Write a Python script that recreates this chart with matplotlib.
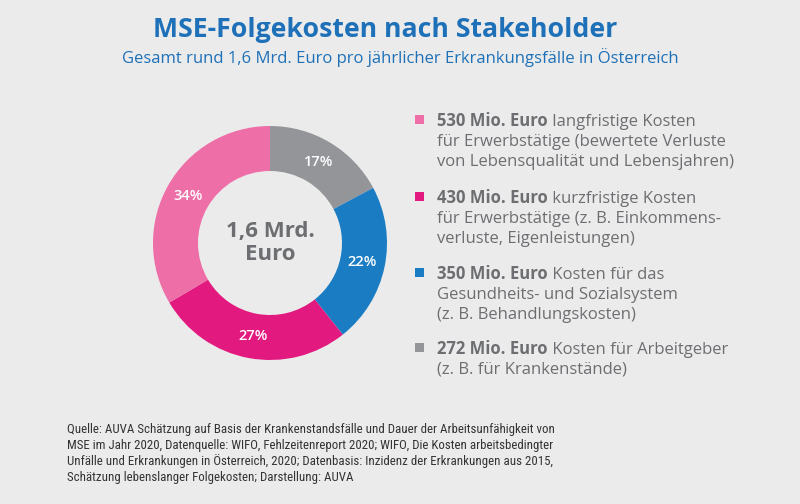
import matplotlib.pyplot as plt
import numpy as np
from matplotlib.patches import Rectangle

# data
values = [272, 350, 430, 530]          # Mio. Euro, clockwise from top
pct_labels = ['17%', '22%', '27%', '34%']
colors = ['#939598', '#1A7DC4', '#E2197F', '#EE6EA8']

legend_colors = ['#EE6EA8', '#E2197F', '#1A7DC4', '#939598']
legend_bold = ['530 Mio. Euro', '430 Mio. Euro', '350 Mio. Euro', '272 Mio. Euro']
legend_lines = [
    [' langfristige Kosten', 'für Erwerbstätige (bewertete Verluste', 'von Lebensqualität und Lebensjahren)'],
    [' kurzfristige Kosten', 'für Erwerbstätige (z. B. Einkommens-', 'verluste, Eigenleistungen)'],
    [' Kosten für das', 'Gesundheits- und Sozialsystem', '(z. B. Behandlungskosten)'],
    [' Kosten für Arbeitgeber', '(z. B. für Krankenstände)'],
]

title = 'MSE-Folgekosten nach Stakeholder'
subtitle = 'Gesamt rund 1,6 Mrd. Euro pro jährlicher Erkrankungsfälle in Österreich'
center_text = '1,6 Mrd.\nEuro'
footer = ['Quelle: AUVA Schätzung auf Basis der Krankenstandsfälle und Dauer der Arbeitsunfähigkeit von',
          'MSE im Jahr 2020, Datenquelle: WIFO, Fehlzeitenreport 2020; WIFO, Die Kosten arbeitsbedingter',
          'Unfälle und Erkrankungen in Österreich, 2020; Datenbasis: Inzidenz der Erkrankungen aus 2015,',
          'Schätzung lebenslanger Folgekosten; Darstellung: AUVA']

bgcol = '#EBEBEB'
txtcol = '#6D6E71'
blue = '#1E71B8'
plt.rcParams['font.family'] = ['Open Sans', 'DejaVu Sans']

W, H = 800, 504
fig = plt.figure(figsize=(W / 100, H / 100), dpi=100, facecolor=bgcol)

# full-figure axes in pixel coords for texts
bg = fig.add_axes([0, 0, 1, 1])
bg.set_xlim(0, W)
bg.set_ylim(H, 0)
bg.axis('off')

bg.text(385, 30, title, ha='center', va='center', fontsize=19.2, fontweight='bold', color=blue)
bg.text(400, 58, subtitle, ha='center', va='center', fontsize=12, color=blue)

# donut
cx, cy, R, r = 270, 243, 117, 72
pad = 130
ax = fig.add_axes([(cx - pad) / W, 1 - (cy + pad) / H, 2 * pad / W, 2 * pad / H])
wedges, _ = ax.pie(values, colors=colors, startangle=90, counterclock=False,
                   radius=1, wedgeprops=dict(width=(R - r) / R, linewidth=0))
ax.set_xlim(-pad / R, pad / R)
ax.set_ylim(-pad / R, pad / R)
ax.axis('off')
mid = (R + r) / 2 / R
cum = np.cumsum([0] + values) / sum(values)
for i, lab in enumerate(pct_labels):
    ang = np.deg2rad(90 - 360 * (cum[i] + cum[i + 1]) / 2)
    ax.text(mid * np.cos(ang), mid * np.sin(ang), lab, ha='center', va='center',
            fontsize=10.5, fontweight='semibold', color='white')
ax.text(0, 0, center_text, ha='center', va='center', fontsize=16, fontweight='bold',
        color=txtcol, linespacing=1.15)

# legend
block_y = [120, 197, 273, 348]
for col, bold, lines, y0 in zip(legend_colors, legend_bold, legend_lines, block_y):
    bg.add_patch(Rectangle((415, y0 - 5), 9, 9, color=col, lw=0))
    t = bg.text(437, y0 + 6, bold, ha='left', va='baseline', fontsize=12, fontweight='bold', color=txtcol)
    bg.annotate(lines[0], xy=(1, 0), xycoords=t, ha='left', va='bottom', fontsize=12, color=txtcol)
    for k, line in enumerate(lines[1:]):
        bg.text(437, y0 + 6 + 20 * (k + 1), line, ha='left', va='baseline', fontsize=12, color=txtcol)

for k, line in enumerate(footer):
    bg.text(67, 433 + 16 * k, line, ha='left', va='baseline', fontsize=9.3,
            family=['Roboto Condensed', 'DejaVu Sans'], color='#333333')

fig.savefig('out.png', dpi=100, facecolor=bgcol)
